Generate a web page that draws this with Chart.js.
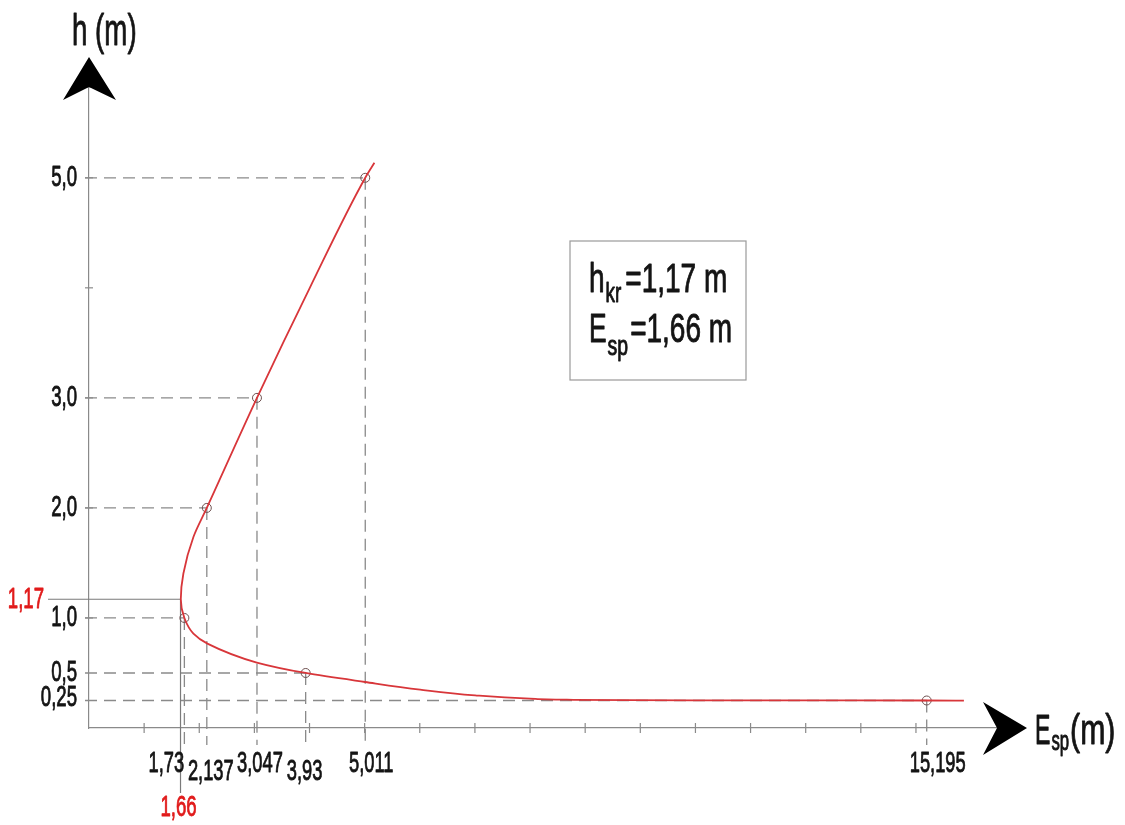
<!DOCTYPE html>
<html>
<head>
<meta charset="utf-8">
<script src="https://cdn.jsdelivr.net/npm/chart.js@4.4.1/dist/chart.umd.min.js"></script>
<style>
  html, body { margin: 0; padding: 0; background: #fff; }
  canvas { display: block; }
</style>
</head>
<body>
<canvas id="chart" width="1125" height="825"></canvas>
<script>
// computed points: specific energy E_sp (m) against depth h (m)
const pointE = [1.73, 2.137, 3.047, 3.93, 5.011, 15.195];
const pointH = [1.0, 2.0, 3.0, 0.5, 5.0, 0.25];
const pointELabels = ['1,73', '2,137', '3,047', '3,93', '5,011', '15,195'];
const pointHLabels = ['1,0', '2,0', '3,0', '0,5', '5,0', '0,25'];

// critical state
const hKr = 1.17;
const eKr = 1.66;
const hKrLabel = '1,17';
const eKrLabel = '1,66';

// curve, from the top end down to the right end
const curveE = [5.177, 5.011, 4.005, 3.047, 2.137, 1.894, 1.712, 1.665, 1.73, 1.894, 2.148,
  3.044, 3.93, 5.008, 6.006, 7.004, 8.0, 8.667, 9.816, 11.32, 12.54, 15.195, 15.87];
const curveH = [5.136, 5.0, 4.0, 3.0, 2.0, 1.736, 1.404, 1.17, 1.0, 0.858, 0.767,
  0.595, 0.5, 0.418, 0.349, 0.297, 0.267, 0.257, 0.253, 0.2515, 0.2505, 0.25, 0.2495];

// label placement (layout only)
const labelShiftX = [-18, 4, 3, -1, 6, 11];
const labelRow = [0, 1, 0, 1, 0, 0];

const RED = '#d8363a';
const LABEL_RED = '#e11b1b';
const GREY = '#8a8a8a';
const INK = '#141414';

function drawText(ctx, str, x, y, size, opts = {}) {
  const squeeze = opts.squeeze || 0.62;
  const color = opts.color || INK;
  ctx.save();
  ctx.font = size + 'px "Liberation Sans", Arial, sans-serif';
  ctx.fillStyle = color;
  ctx.strokeStyle = color;
  ctx.lineWidth = 0.9;
  ctx.lineJoin = 'round';
  ctx.textBaseline = opts.baseline || 'middle';
  ctx.textAlign = 'left';
  const w = ctx.measureText(str).width * squeeze;
  const align = opts.align || 'center';
  const left = align === 'center' ? x - w / 2 : align === 'right' ? x - w : x;
  ctx.translate(left, y);
  ctx.scale(squeeze, 1);
  ctx.fillText(str, 0, 0);
  ctx.strokeText(str, 0, 0);
  ctx.restore();
  return w;
}

function line(ctx, x1, y1, x2, y2) {
  ctx.beginPath();
  ctx.moveTo(x1, y1);
  ctx.lineTo(x2, y2);
  ctx.stroke();
}

const guides = {
  id: 'guides',
  beforeDatasetsDraw(chart) {
    const { ctx, chartArea: a, scales: { x, y } } = chart;
    ctx.save();

    // dashed reference lines to each computed point
    ctx.strokeStyle = GREY;
    ctx.lineWidth = 1.3;
    ctx.setLineDash([12, 7]);
    pointE.forEach((e, i) => {
      const px = x.getPixelForValue(e);
      const py = y.getPixelForValue(pointH[i]);
      line(ctx, a.left - 4, py, px, py);
      line(ctx, px, py, px, a.bottom + 17);
    });
    ctx.setLineDash([]);

    // critical depth / energy lines
    ctx.strokeStyle = '#7a7a7a';
    ctx.lineWidth = 1.2;
    const kx = x.getPixelForValue(eKr);
    const ky = y.getPixelForValue(hKr);
    line(ctx, a.left - 41, ky, kx, ky);
    line(ctx, kx, ky, kx, a.bottom + 65);

    // tick marks crossing the axes
    ctx.strokeStyle = GREY;
    ctx.lineWidth = 1.2;
    const lastE = Math.floor(Math.max(...pointE));
    x.ticks.forEach(t => {
      if (t.value <= 0 || t.value > lastE) return;
      const px = x.getPixelForValue(t.value);
      line(ctx, px, a.bottom - 5, px, a.bottom + 5);
    });
    y.ticks.forEach(t => {
      if (t.value <= 0) return;
      const py = y.getPixelForValue(t.value);
      line(ctx, a.left - 4, py, a.left + 4, py);
    });
    ctx.restore();
  },
  afterDraw(chart) {
    const { ctx, chartArea: a, scales: { x, y } } = chart;
    ctx.save();

    // arrow heads
    ctx.fillStyle = '#000';
    ctx.beginPath();
    ctx.moveTo(a.left, a.top - 30);
    ctx.lineTo(a.left + 27, a.top + 13);
    ctx.lineTo(a.left, a.top);
    ctx.lineTo(a.left - 26, a.top + 13);
    ctx.closePath();
    ctx.fill();
    ctx.beginPath();
    ctx.moveTo(a.right + 30, a.bottom);
    ctx.lineTo(a.right - 14, a.bottom + 27);
    ctx.lineTo(a.right, a.bottom);
    ctx.lineTo(a.right - 14, a.bottom - 26);
    ctx.closePath();
    ctx.fill();

    // axis titles
    drawText(ctx, 'h (m)', a.left - 17, 45, 44, { align: 'left', baseline: 'alphabetic', squeeze: 0.63 });
    let cx = a.right + 38;
    cx += drawText(ctx, 'E', cx, a.bottom + 16, 42, { align: 'left', baseline: 'alphabetic', squeeze: 0.55 });
    cx += drawText(ctx, 'sp', cx + 1, a.bottom + 22, 27, { align: 'left', baseline: 'alphabetic', squeeze: 0.62 }) + 2;
    drawText(ctx, '(m)', cx, a.bottom + 16, 42, { align: 'left', baseline: 'alphabetic', squeeze: 0.72 });

    // tick labels at the computed points
    pointE.forEach((e, i) => {
      const px = x.getPixelForValue(e) + labelShiftX[i];
      drawText(ctx, pointELabels[i], px, a.bottom + 36 + labelRow[i] * 8, 30, { squeeze: 0.61 });
    });
    pointH.forEach((h, i) => {
      drawText(ctx, pointHLabels[i], a.left - 12, y.getPixelForValue(h) - (h < 0.3 ? 3 : 0), 30,
        { align: 'right', squeeze: 0.62 });
    });
    drawText(ctx, hKrLabel, a.left - 45, y.getPixelForValue(hKr), 30,
      { align: 'right', color: LABEL_RED, squeeze: 0.62 });
    drawText(ctx, eKrLabel, x.getPixelForValue(eKr) - 2, a.bottom + 80, 30,
      { color: LABEL_RED, squeeze: 0.62 });

    // result box
    const bx = 570, by = 241, bw = 176, bh = 139;
    ctx.strokeStyle = '#9a9a9a';
    ctx.lineWidth = 1.2;
    ctx.strokeRect(bx, by, bw, bh);
    let tx = bx + 19;
    tx += drawText(ctx, 'h', tx, by + 51, 40, { align: 'left', baseline: 'alphabetic', squeeze: 0.7 });
    tx += drawText(ctx, 'kr', tx + 1, by + 61, 27, { align: 'left', baseline: 'alphabetic', squeeze: 0.7 });
    drawText(ctx, '=1,17 m', tx + 5, by + 51, 40, { align: 'left', baseline: 'alphabetic', squeeze: 0.7 });
    tx = bx + 19;
    tx += drawText(ctx, 'E', tx, by + 101, 40, { align: 'left', baseline: 'alphabetic', squeeze: 0.66 });
    tx += drawText(ctx, 'sp', tx + 1, by + 114, 27, { align: 'left', baseline: 'alphabetic', squeeze: 0.72 });
    drawText(ctx, '=1,66 m', tx + 3, by + 101, 40, { align: 'left', baseline: 'alphabetic', squeeze: 0.7 });

    ctx.restore();
  },
};

const ctx = document.getElementById('chart').getContext('2d');
new Chart(ctx, {
  type: 'scatter',
  data: {
    datasets: [
      {
        label: 'E(h)',
        data: curveE.map((e, i) => ({ x: e, y: curveH[i] })),
        showLine: true,
        cubicInterpolationMode: 'monotone',
        borderColor: RED,
        borderWidth: 1.8,
        pointRadius: 0,
        fill: false,
      },
      {
        label: 'points',
        data: pointE.map((e, i) => ({ x: e, y: pointH[i] })),
        showLine: false,
        pointRadius: 4.5,
        pointBorderWidth: 1,
        pointBorderColor: '#6e5050',
        pointBackgroundColor: 'rgba(0,0,0,0)',
      },
    ],
  },
  options: {
    indexAxis: 'y',
    responsive: false,
    animation: false,
    layout: { padding: { left: 89, right: 128, top: 87, bottom: 97 } },
    plugins: { legend: { display: false }, tooltip: { enabled: false } },
    scales: {
      x: {
        type: 'linear',
        min: 0,
        max: 16.47,
        ticks: { display: false, stepSize: 1 },
        grid: { display: false, drawTicks: false },
        border: { color: GREY, width: 1.2 },
      },
      y: {
        type: 'linear',
        min: 0,
        max: 5.825,
        ticks: { display: false, stepSize: 1 },
        grid: { display: false, drawTicks: false },
        border: { color: GREY, width: 1.2 },
      },
    },
  },
  plugins: [guides],
});
</script>
</body>
</html>
